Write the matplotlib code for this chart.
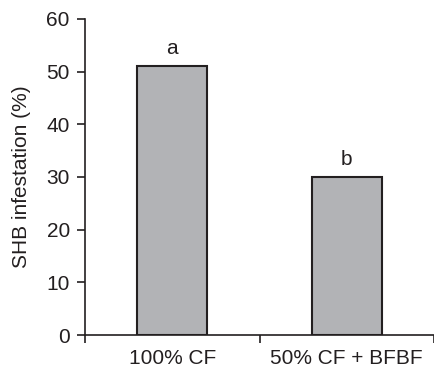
import numpy as np
import matplotlib
matplotlib.use("Agg")
import matplotlib.pyplot as plt

treatments = ["100% CF", "50% CF + BFBF"]
infestation = [51, 30]
letters = ["a", "b"]
yticks = [0, 10, 20, 30, 40, 50, 60]

plt.rcParams["font.family"] = ["Liberation Sans", "DejaVu Sans"]

fig = plt.figure(figsize=(4.34, 3.69), dpi=100)
ax = fig.add_axes([0.196, 0.092, 0.804, 0.857])

x = np.arange(len(treatments))
ax.bar(x, infestation, width=0.4, color="#b2b3b6", edgecolor="#231f20", linewidth=1.5, zorder=3)
for xi, v, s in zip(x, infestation, letters):
    ax.annotate(s, (xi, v), xytext=(0, 6), textcoords="offset points",
                ha="center", va="bottom", fontsize=15, color="#231f20")

ax.set_xlim(-0.5, 1.5)
ax.set_ylim(0, 60)
ax.set_yticks(yticks)
ax.set_xticks([-0.5, 0.5, 1.5])
ax.set_xticklabels([])
ax.set_xticks(x, minor=True)
ax.set_xticklabels(treatments, minor=True)
ax.tick_params(axis="x", which="minor", length=0, pad=10, labelsize=15, labelcolor="#231f20")
ax.tick_params(axis="x", which="major", length=6, width=1.2, color="#231f20")
ax.tick_params(axis="y", length=6, width=1.2, color="#231f20", labelsize=15, pad=5,
               labelcolor="#231f20")
ax.set_ylabel("SHB infestation (%)", fontsize=15, labelpad=11, color="#231f20")

for side in ["top", "right"]:
    ax.spines[side].set_visible(False)
for side in ["left", "bottom"]:
    ax.spines[side].set_linewidth(1.2)
    ax.spines[side].set_color("#231f20")

fig.savefig("out.png", dpi=100)
